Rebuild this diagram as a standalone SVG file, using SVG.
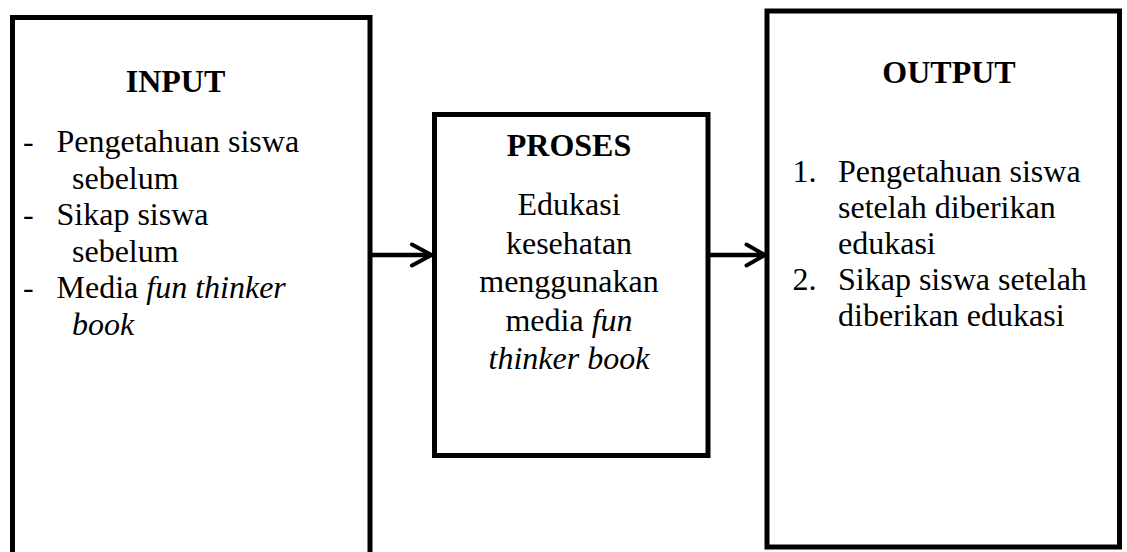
<svg xmlns="http://www.w3.org/2000/svg" width="1127" height="552" viewBox="0 0 1127 552">
<style>
.box{fill:#fff;stroke:#000;stroke-width:5}
.conn{fill:none;stroke:#000;stroke-width:4.5;stroke-linecap:butt}
.head{fill:none;stroke:#000;stroke-width:4;stroke-linecap:round;stroke-linejoin:miter}
text{font-family:"Liberation Serif","Times New Roman",serif;font-size:32px;fill:#000}
.h{font-weight:bold;text-anchor:middle}
.c{text-anchor:middle}
.i{font-style:italic}
</style>
<rect width="1127" height="552" fill="#fff"/>
<g id="input">
<rect class="box" x="12.5" y="17.5" width="357.5" height="560"/>
<text class="h" x="175.5" y="92">INPUT</text>
<text x="23" y="152">-</text>
<text x="56.5" y="152">Pengetahuan siswa</text>
<text x="72" y="189">sebelum</text>
<text x="23" y="225">-</text>
<text x="56.5" y="225">Sikap siswa</text>
<text x="72" y="262">sebelum</text>
<text x="23" y="298">-</text>
<text x="56.5" y="298">Media <tspan class="i">fun thinker</tspan></text>
<text x="72" y="335" class="i">book</text>
</g>
<g id="proses">
<rect class="box" x="434.5" y="114.5" width="273.5" height="341"/>
<text class="h" x="569" y="156">PROSES</text>
<text class="c" x="569" y="215">Edukasi</text>
<text class="c" x="569" y="253.5">kesehatan</text>
<text class="c" x="569" y="292">menggunakan</text>
<text class="c" x="569" y="330.5">media <tspan class="i">fun</tspan></text>
<text class="c i" x="569" y="369">thinker book</text>
</g>
<g id="output">
<rect class="box" x="767" y="11" width="352.5" height="536"/>
<text class="h" x="949" y="83">OUTPUT</text>
<text x="792.5" y="182">1.</text>
<text x="838" y="182">Pengetahuan siswa</text>
<text x="838" y="218">setelah diberikan</text>
<text x="838" y="254">edukasi</text>
<text x="792.5" y="290">2.</text>
<text x="838" y="290">Sikap siswa setelah</text>
<text x="838" y="326">diberikan edukasi</text>
</g>
<g id="connectors">
<line class="conn" x1="372" y1="255" x2="431" y2="255"/>
<polyline class="head" points="412,244.5 431.5,255 412,265.5"/>
<line class="conn" x1="710" y1="255" x2="764" y2="255"/>
<polyline class="head" points="746.5,244.5 765,255 746.5,265.5"/>
</g>
</svg>
